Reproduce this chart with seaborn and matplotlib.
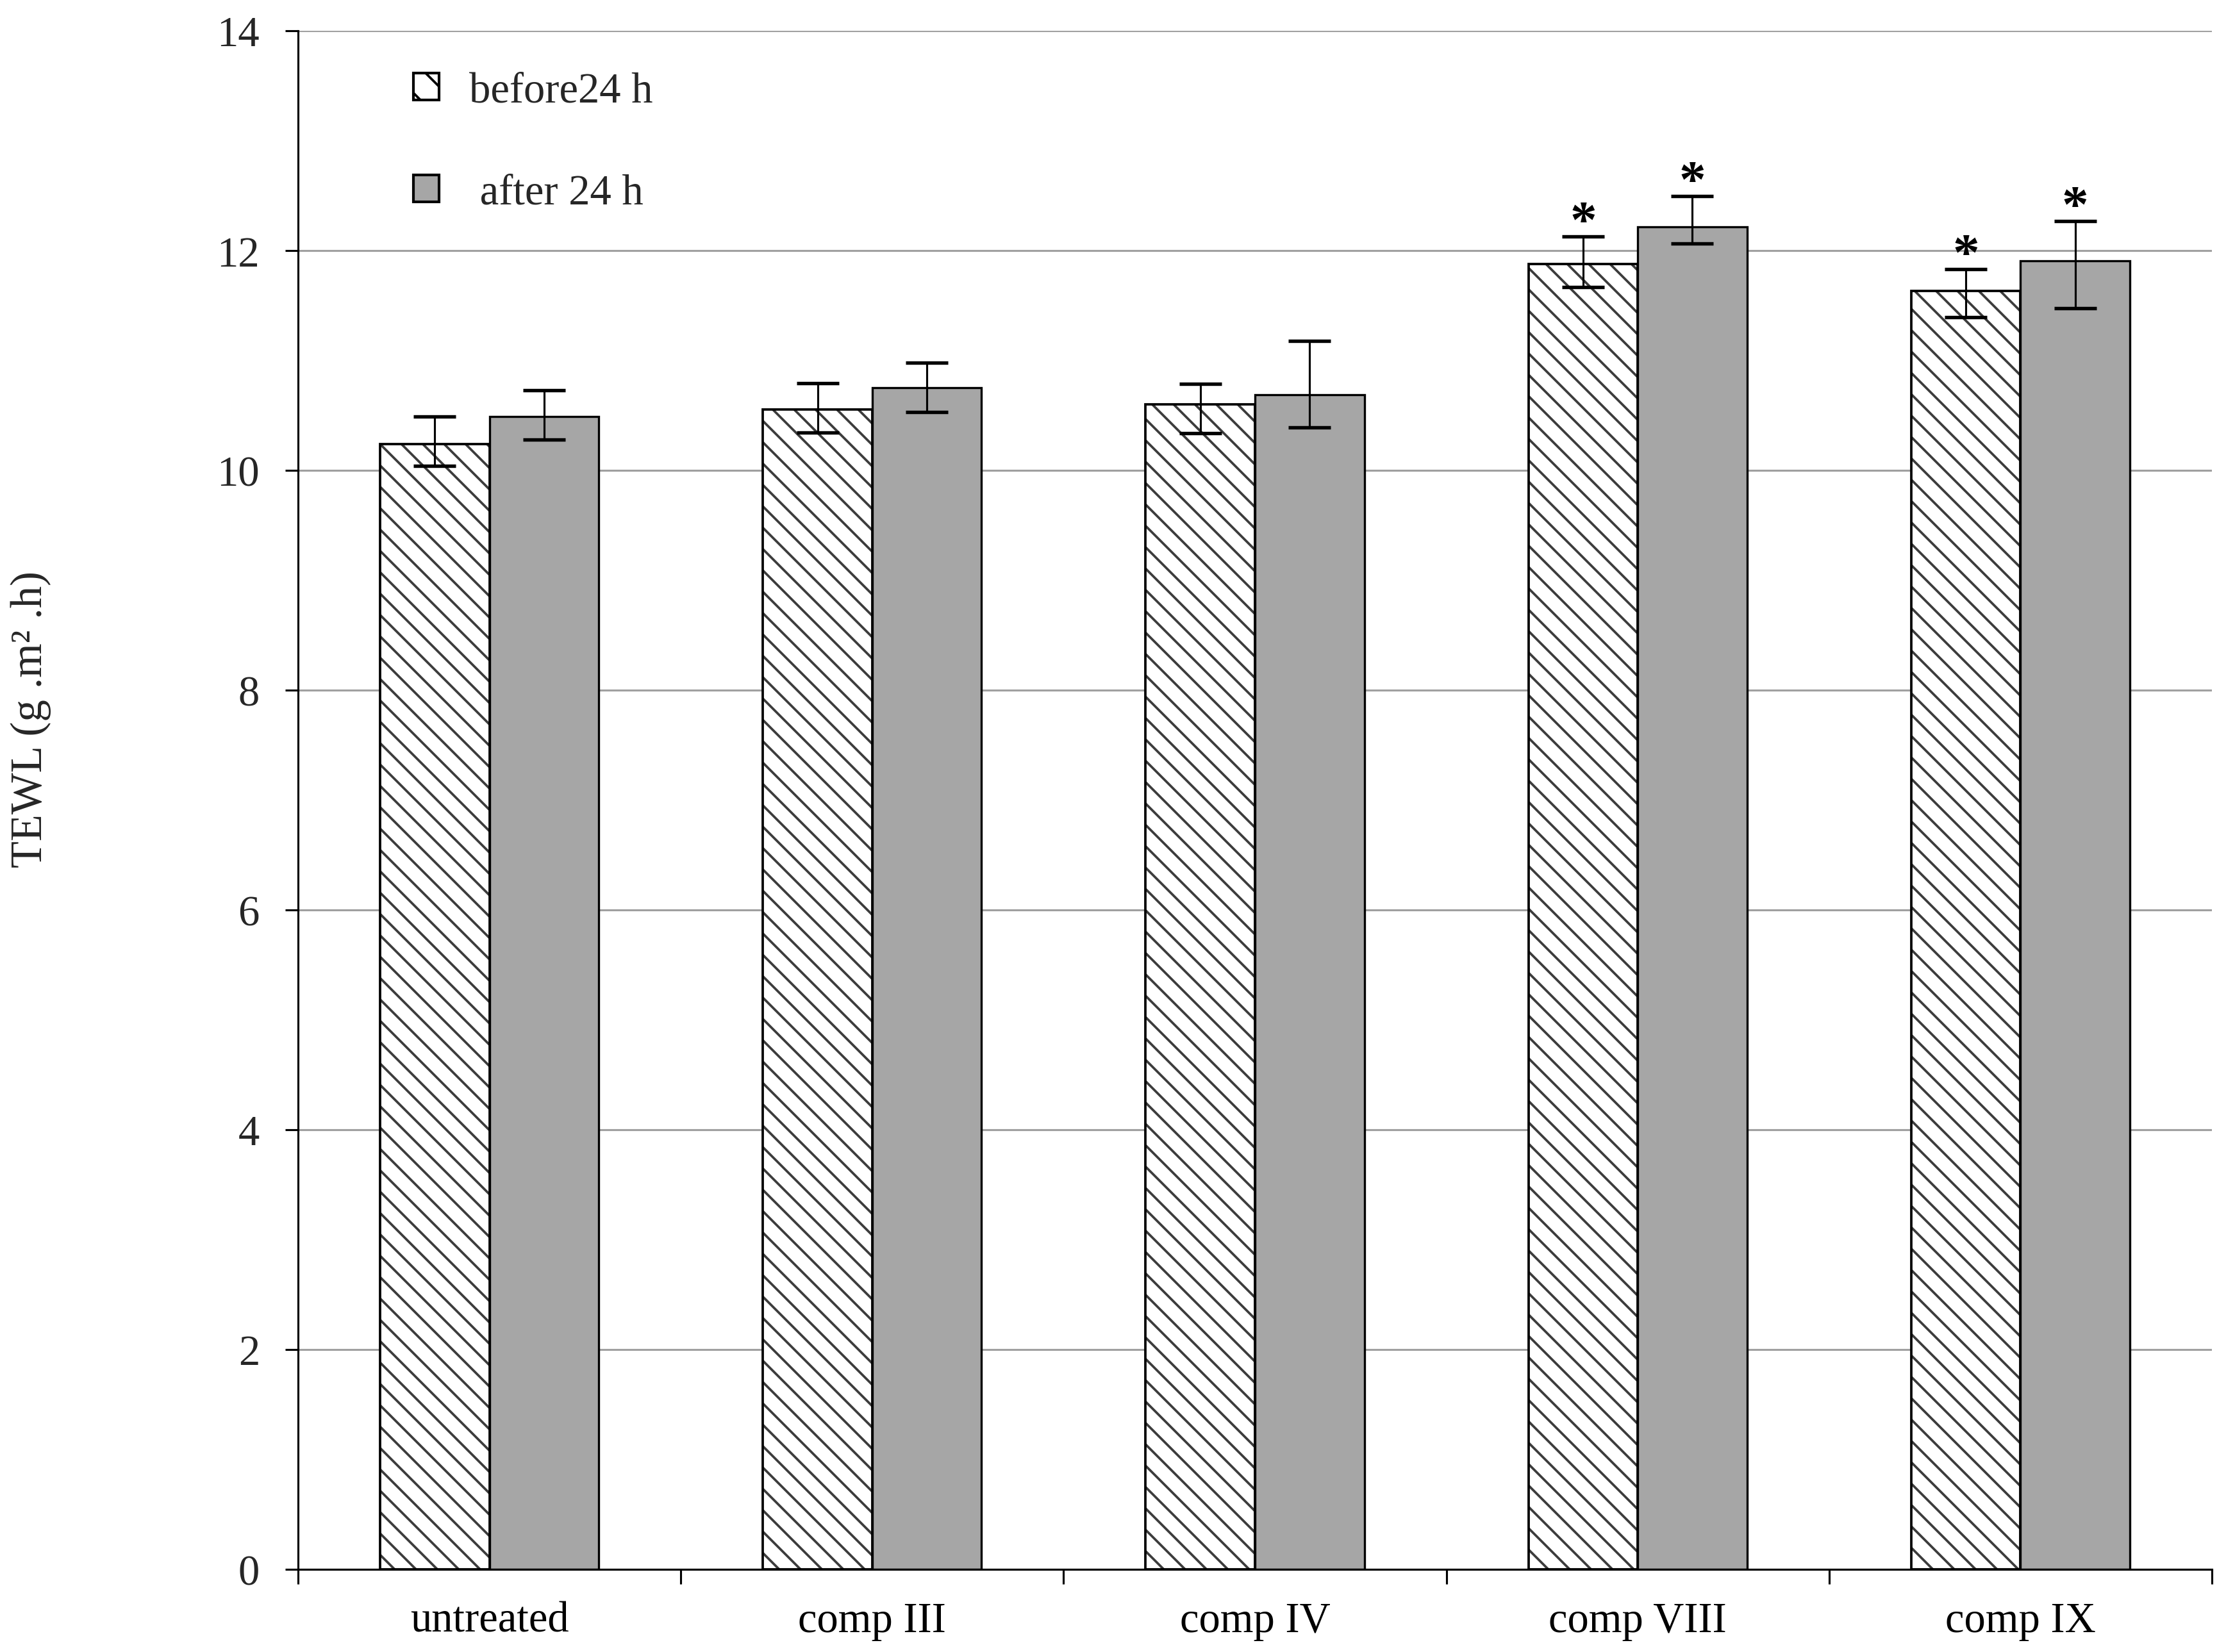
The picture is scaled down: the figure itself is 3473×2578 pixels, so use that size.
import matplotlib
matplotlib.use("Agg")
import matplotlib.pyplot as plt
from matplotlib.patches import Rectangle, Patch
import seaborn as sns
import pandas as pd
import numpy as np

categories = ["untreated", "comp III", "comp IV", "comp VIII", "comp IX"]
series_names = ["before24 h", " after 24 h"]
before = [10.24, 10.555, 10.60, 11.877, 11.632]
after = [10.49, 10.75, 10.69, 12.213, 11.906]
before_err_low = [0.20, 0.21, 0.26, 0.21, 0.24]
before_err_high = [0.25, 0.24, 0.19, 0.25, 0.20]
after_err_low = [0.21, 0.22, 0.30, 0.15, 0.43]
after_err_high = [0.24, 0.23, 0.49, 0.28, 0.36]
sig_before = [False, False, False, True, True]
sig_after = [False, False, False, True, True]
y_ticks = [0, 2, 4, 6, 8, 10, 12, 14]
y_label = "TEWL (g .m\u00b2 .h)"

sns.set_style("white")
plt.rcParams["font.family"] = ["Liberation Serif", "DejaVu Serif"]
plt.rcParams["hatch.linewidth"] = 0.9

df = pd.DataFrame({
    "group": categories * 2,
    "time": [series_names[0]] * len(categories) + [series_names[1]] * len(categories),
    "value": before + after,
})

W, H, DPI = 3473, 2579, 300
fig, ax = plt.subplots(figsize=(W / DPI, H / DPI), dpi=DPI)
fig.subplots_adjust(left=465 / W, right=3451 / W, bottom=129 / H, top=(H - 49) / H)

sns.barplot(data=df, x="group", y="value", hue="time", order=categories,
            hue_order=series_names, palette=["white", "#a6a6a6"],
            width=0.571, gap=0, errorbar=None, edgecolor="black",
            linewidth=0.8, legend=False, ax=ax, zorder=2)

HATCH_COLOR = "#3c3c3c"
before_bars = list(ax.containers[0])
after_bars = list(ax.containers[1])
for bar in before_bars:
    bar.set_hatch("\\\\\\")
    bar.set_edgecolor(HATCH_COLOR)
    bar.set_linewidth(0)
    ax.add_patch(Rectangle((bar.get_x(), bar.get_y()), bar.get_width(), bar.get_height(),
                           fill=False, edgecolor="black", linewidth=0.9, zorder=3))

def draw_err(bars, vals, lo, hi, sig):
    xs = [b.get_x() + b.get_width() / 2 for b in bars]
    ax.errorbar(xs, vals, yerr=[lo, hi], fmt="none", ecolor="black",
                elinewidth=0.75, capsize=8, capthick=1.3, zorder=5)
    for x, v, h, s in zip(xs, vals, hi, sig):
        if s:
            ax.annotate("*", xy=(x, v + h), xytext=(0, 0), textcoords="offset points",
                        ha="center", va="baseline", fontsize=20, fontweight="bold",
                        color="black")

draw_err(before_bars, before, before_err_low, before_err_high, sig_before)
draw_err(after_bars, after, after_err_low, after_err_high, sig_after)

ax.set_ylim(0, 14)
ax.set_xlim(-0.5, len(categories) - 0.5)
ax.set_yticks(y_ticks)
ax.set_yticklabels([str(t) for t in y_ticks])
ax.set_xticks(range(len(categories)))
ax.set_xticklabels(categories)
ax.set_xticks(np.arange(-0.5, len(categories)), minor=True)
ax.tick_params(axis="x", which="major", length=0, pad=12, labelsize=16, colors="black")
ax.tick_params(axis="x", which="minor", length=5.5, width=0.75, direction="out",
               bottom=True, color="black")
ax.tick_params(axis="y", which="major", length=4.8, width=0.75, direction="out",
               pad=9.6, labelsize=16, left=True, color="black")
ax.yaxis.grid(True, color="#a0a0a0", linewidth=0.75)
ax.xaxis.grid(False)
ax.set_axisbelow(True)
for s in ["top", "right"]:
    ax.spines[s].set_visible(False)
for s in ["left", "bottom"]:
    ax.spines[s].set_color("black")
    ax.spines[s].set_linewidth(0.75)

ax.set_xlabel("")
ax.set_ylabel(y_label, fontsize=16.5)
ax.yaxis.set_label_coords(-0.129, 0.553)

handles = [
    Patch(facecolor="white", edgecolor="black", hatch="\\\\", linewidth=1.0),
    Patch(facecolor="#a6a6a6", edgecolor="black", linewidth=1.0),
]
ax.legend(handles, series_names, loc="upper left", bbox_to_anchor=(0.0603, 0.9735),
          frameon=False, borderpad=0, borderaxespad=0, handlelength=0.6,
          handleheight=0.6, handletextpad=0.7, labelspacing=1.47, fontsize=16)

fig.savefig("out.png", dpi=DPI, facecolor="white")
